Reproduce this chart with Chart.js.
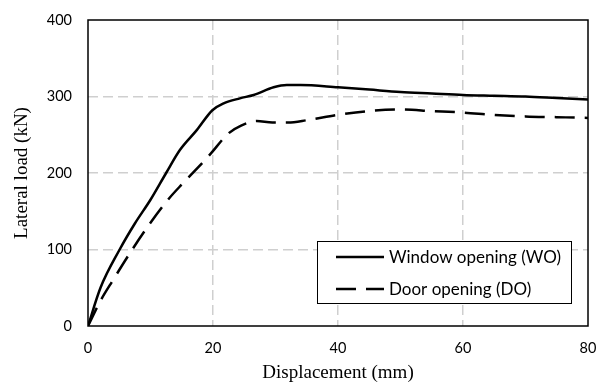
<!DOCTYPE html>
<html>
<head>
<meta charset="utf-8">
<script src="https://cdn.jsdelivr.net/npm/chart.js@4/dist/chart.umd.min.js"></script>
<style>
  html, body { margin: 0; padding: 0; background: #fff; }
  #wrap { width: 596px; height: 383px; }
</style>
</head>
<body>
<div id="wrap"><canvas id="loadChart"></canvas></div>
<script>
// load-displacement curves for the two wall types
const seriesNames = ["Window opening (WO)", "Door opening (DO)"];

const woDisp = [0, 2, 5, 7.5, 10, 12.5, 14.7, 17.4, 19.9, 21.7, 24.3, 26.5, 29.7, 31.8, 34, 40, 45, 50, 55, 60, 65, 70, 75, 80];
const woLoad = [0, 50, 99, 134, 165, 200, 230, 256, 282, 291, 297.6, 302, 312, 315, 315, 312, 309, 306, 304, 302, 301, 300, 298, 296];

const doDisp = [0, 2, 4, 7, 10, 13, 15, 17, 19.5, 22.5, 24.5, 27, 29.5, 32, 35, 40, 45, 50, 55, 60, 65, 70, 75, 80];
const doLoad = [0, 33, 60, 99, 135, 167, 185, 202, 224, 252, 262, 268, 266, 266, 269, 276, 281, 283, 281, 279, 276, 274, 273, 272];

const xTicks = [0, 20, 40, 60, 80];
const yTicks = [0, 100, 200, 300, 400];

function toPoints(xs, ys) {
    return xs.map((x, i) => ({ x: x, y: ys[i] }));
}

const TICK_FONT = { family: "Lato", size: 14.5 };
const TITLE_FONT = { family: "Liberation Serif", size: 19, lineHeight: 1 };

// ====================== FRAME + LEGEND ======================
const framePlugin = {
    id: "frame",
    afterDatasetsDraw(chart) {
        const { ctx, chartArea: a } = chart;
        ctx.save();
        ctx.strokeStyle = "#000";
        ctx.lineWidth = 1.5;
        ctx.strokeRect(a.left, a.top, a.right - a.left, a.bottom - a.top);
        ctx.restore();
    }
};

const boxLegend = {
    id: "boxLegend",
    afterDraw(chart) {
        const { ctx } = chart;
        const box = { x: 317, y: 241, w: 254, h: 62 };
        ctx.save();
        ctx.fillStyle = "#fff";
        ctx.fillRect(box.x, box.y, box.w, box.h);
        ctx.strokeStyle = "#000";
        ctx.lineWidth = 1;
        ctx.strokeRect(box.x + 0.5, box.y + 0.5, box.w, box.h);

        const rows = [257, 289];
        chart.data.datasets.forEach((ds, i) => {
            const y = rows[i];
            ctx.strokeStyle = ds.borderColor;
            ctx.lineWidth = ds.borderWidth;
            ctx.setLineDash(ds.borderDash || []);
            ctx.beginPath();
            ctx.moveTo(336, y);
            ctx.lineTo(384, y);
            ctx.stroke();
            ctx.setLineDash([]);
            ctx.fillStyle = "#000";
            ctx.font = "17px Lato";
            ctx.textBaseline = "middle";
            ctx.fillText(ds.label, 389, y + 1);
        });
        ctx.restore();
    }
};

const gridColor = (c) => {
    const v = c.tick.value;
    return (v === 0 || v === c.scale.max) ? "rgba(0,0,0,0)" : "#cfcfcf";
};

// fixed scale boxes so the plot frame sits where it should
function fitX(s) {
    s.height = 57;
    s.paddingLeft = 0;
    s.paddingRight = 0;
}
function fitY(s) {
    s.width = 88;
    s.paddingTop = 0;
    s.paddingBottom = 0;
}

new Chart(document.getElementById("loadChart"), {
    type: "scatter",
    data: {
        datasets: [
            {
                label: seriesNames[0],
                data: toPoints(woDisp, woLoad),
                showLine: true,
                borderColor: "#000",
                borderWidth: 2.5,
                pointRadius: 0,
                cubicInterpolationMode: "monotone"
            },
            {
                label: seriesNames[1],
                data: toPoints(doDisp, doLoad),
                showLine: true,
                borderColor: "#000",
                borderWidth: 2.5,
                borderDash: [20, 10],
                pointRadius: 0,
                cubicInterpolationMode: "monotone"
            }
        ]
    },
    options: {
        responsive: true,
        maintainAspectRatio: false,
        animation: false,
        layout: { padding: { left: 0, right: 8, top: 20, bottom: 0 } },
        plugins: {
            legend: { display: false },
            tooltip: { enabled: false }
        },
        scales: {
            x: {
                type: "linear",
                min: 0,
                max: 80,
                afterBuildTicks: (s) => { s.ticks = xTicks.map(v => ({ value: v })); },
                afterFit: fitX,
                ticks: { color: "#000", font: TICK_FONT, padding: 14 },
                grid: { color: gridColor, lineWidth: 1.5, drawTicks: false },
                border: { display: false, dash: [10, 5] },
                title: {
                    display: true,
                    text: "Displacement (mm)",
                    color: "#000",
                    font: TITLE_FONT,
                    padding: { top: 0, bottom: 0 }
                }
            },
            y: {
                type: "linear",
                min: 0,
                max: 400,
                afterBuildTicks: (s) => { s.ticks = yTicks.map(v => ({ value: v })); },
                afterFit: fitY,
                ticks: { color: "#000", font: TICK_FONT, padding: 16 },
                grid: { color: gridColor, lineWidth: 1.5, drawTicks: false },
                border: { display: false, dash: [10, 5] },
                title: {
                    display: true,
                    text: "Lateral load (kN)",
                    color: "#000",
                    font: TITLE_FONT,
                    padding: { top: 13, bottom: 0 }
                }
            }
        }
    },
    plugins: [framePlugin, boxLegend]
});
</script>
</body>
</html>
